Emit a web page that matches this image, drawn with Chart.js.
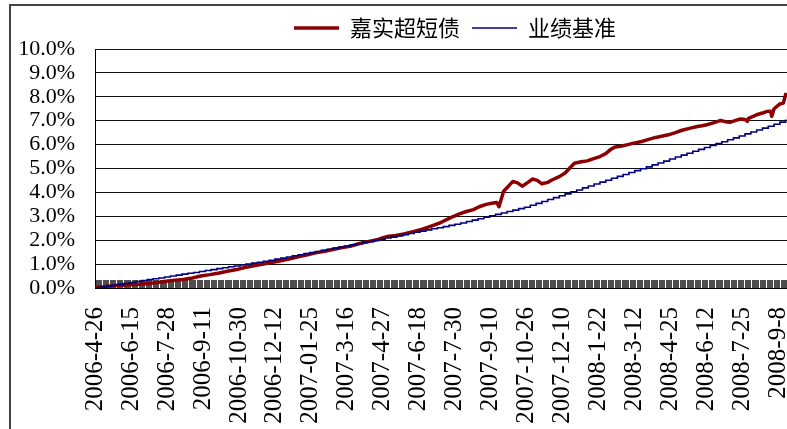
<!DOCTYPE html>
<html>
<head>
<meta charset="utf-8">
<script src="https://cdn.jsdelivr.net/npm/chart.js@4.4.0/dist/chart.umd.min.js"></script>
<style>
  html, body { margin: 0; padding: 0; background: #fff; overflow: hidden; }
  #wrap { position: relative; width: 787px; height: 429px; overflow: hidden; }
  #frame { position: absolute; left: 9px; top: 4px; width: 900px; height: 500px;
           border-left: 2px solid #444; border-top: 2px solid #444; pointer-events: none; }
  canvas { position: absolute; left: 0; top: 0; }
</style>
</head>
<body>
<div id="wrap">
  <canvas id="chart" width="910" height="440"></canvas>
  <div id="frame"></div>
</div>
<script>
// tick labels, one every 31 trading days
const dateLabels = [
  "2006-4-26", "2006-6-15", "2006-7-28", "2006-9-11", "2006-10-30", "2006-12-12",
  "2007-01-25", "2007-3-16", "2007-4-27", "2007-6-18", "2007-7-30", "2007-9-10",
  "2007-10-26", "2007-12-10", "2008-1-22", "2008-3-12", "2008-4-25", "2008-6-12",
  "2008-7-25", "2008-9-8"
];
const labelStep = 31;
const lastDay = 597;

// 嘉实超短债 cumulative return (%), by trading day index
const fundIdx = [0, 8, 15, 23, 30, 38, 46, 53, 61, 69, 76, 84, 91, 99, 107, 114, 122, 129, 137, 145,
  152, 160, 168, 175, 183, 190, 198, 206, 213, 221, 228, 236, 244, 249, 253, 259, 266, 274, 282, 289,
  297, 303, 308, 314, 320, 326, 331, 337, 343, 346, 348, 350, 352, 356, 360, 364, 368, 373, 377, 381,
  385, 390, 394, 400, 405, 409, 413, 419, 424, 429, 435, 440, 444, 448, 453, 459, 464, 471, 477, 483,
  488, 494, 500, 505, 512, 519, 523, 527, 532, 536, 539, 543, 547, 552, 556, 560, 562, 563, 567, 570,
  575, 579, 582, 583, 585, 588, 590, 593, 595];
const fundPct = [0.02, 0.05, 0.09, 0.12, 0.14, 0.16, 0.19, 0.22, 0.28, 0.32, 0.36, 0.42, 0.50, 0.56, 0.63, 0.70, 0.77, 0.86, 0.93, 1.00,
  1.07, 1.14, 1.22, 1.31, 1.39, 1.47, 1.54, 1.62, 1.69, 1.76, 1.86, 1.95, 2.03, 2.12, 2.17, 2.20, 2.26, 2.36, 2.46, 2.58,
  2.72, 2.86, 2.98, 3.10, 3.20, 3.28, 3.40, 3.50, 3.56, 3.58, 3.40, 3.72, 4.05, 4.25, 4.46, 4.40, 4.26, 4.42, 4.56, 4.50,
  4.36, 4.42, 4.53, 4.66, 4.81, 5.02, 5.22, 5.28, 5.32, 5.40, 5.50, 5.62, 5.79, 5.90, 5.93, 6.00, 6.06, 6.13, 6.22, 6.30,
  6.35, 6.41, 6.50, 6.59, 6.68, 6.76, 6.79, 6.83, 6.90, 6.96, 7.01, 6.96, 6.93, 7.01, 7.07, 7.05, 6.97, 7.10, 7.18, 7.25,
  7.32, 7.39, 7.40, 7.18, 7.50, 7.62, 7.70, 7.74, 8.10];

// 业绩基准 cumulative return (%), one value every 5 trading days
const benchStep = 5;
const benchPct = [0.00, 0.04, 0.08, 0.12, 0.15, 0.19, 0.23, 0.27, 0.31, 0.35, 0.39, 0.42, 0.46, 0.50, 0.54, 0.58, 0.62, 0.65, 0.69, 0.73,
  0.77, 0.81, 0.85, 0.89, 0.92, 0.96, 1.00, 1.04, 1.08, 1.12, 1.16, 1.21, 1.25, 1.30, 1.35, 1.39, 1.44, 1.48, 1.53, 1.58,
  1.62, 1.67, 1.71, 1.76, 1.81, 1.85, 1.90, 1.94, 1.99, 2.04, 2.09, 2.13, 2.18, 2.23, 2.28, 2.33, 2.38, 2.43, 2.48, 2.52,
  2.57, 2.62, 2.67, 2.72, 2.78, 2.84, 2.90, 2.96, 3.02, 3.08, 3.14, 3.20, 3.26, 3.32, 3.38, 3.46, 3.54, 3.62, 3.70, 3.78,
  3.86, 3.94, 4.02, 4.10, 4.19, 4.27, 4.35, 4.43, 4.51, 4.59, 4.67, 4.75, 4.83, 4.91, 4.99, 5.07, 5.15, 5.23, 5.31, 5.40,
  5.48, 5.56, 5.64, 5.72, 5.80, 5.88, 5.96, 6.04, 6.12, 6.20, 6.28, 6.36, 6.45, 6.53, 6.61, 6.69, 6.77, 6.85, 6.94, 7.05];

const fundData = fundIdx.map((d, i) => ({ x: d, y: fundPct[i] }));
const benchData = benchPct.map((v, i) => ({ x: i * benchStep, y: v }));

const serif = "'Liberation Serif', 'DejaVu Serif', serif";

new Chart(document.getElementById("chart"), {
  type: "line",
  data: {
    datasets: [
      {
        label: "嘉实超短债",
        data: fundData,
        borderColor: "#8B0000",
        backgroundColor: "#8B0000",
        borderWidth: 3.5,
        pointRadius: 0,
        pointStyle: "line",
        borderJoinStyle: "round",
        borderCapStyle: "round",
        tension: 0,
        order: 2
      },
      {
        label: "业绩基准",
        data: benchData,
        borderColor: "#000080",
        backgroundColor: "#000080",
        borderWidth: 1.6,
        pointRadius: 0,
        pointStyle: "line",
        stepped: true,
        order: 1
      }
    ]
  },
  options: {
    responsive: false,
    animation: false,
    devicePixelRatio: 1,
    layout: { padding: { left: 0, right: 0, top: 5, bottom: 2 } },
    plugins: {
      tooltip: { enabled: false },
      legend: {
        position: "top",
        labels: {
          usePointStyle: true,
          pointStyleWidth: 45,
          padding: 12,
          color: "#000",
          font: { family: "'Noto Sans CJK SC', sans-serif", size: 22 },
          sort: (a, b) => a.datasetIndex - b.datasetIndex
        }
      }
    },
    scales: {
      x: {
        type: "linear",
        min: 0,
        max: lastDay,
        ticks: {
          stepSize: 1,
          autoSkip: false,
          minRotation: 90,
          maxRotation: 90,
          padding: 27,
          color: "#000",
          font: { family: serif, size: 25 },
          callback: (v) => (v % labelStep === 0 && dateLabels[v / labelStep]) ? dateLabels[v / labelStep] : ""
        },
        grid: { drawOnChartArea: false, drawTicks: true, tickLength: -8, tickColor: "#000", tickWidth: 0.7 },
        border: { color: "#000", width: 1 },
        afterFit: (s) => { s.height = 150; }
      },
      y: {
        min: 0,
        max: 10,
        ticks: {
          stepSize: 1,
          autoSkip: false,
          padding: 20,
          color: "#000",
          font: { family: serif, size: 22 },
          callback: (v) => v.toFixed(1) + "%"
        },
        grid: { color: "#111", lineWidth: 1, drawTicks: false },
        border: { color: "#000", width: 1 },
        afterFit: (s) => { s.width = 95; }
      },
      y2: {
        position: "right",
        display: true,
        grid: { display: false },
        ticks: { display: false },
        border: { display: false },
        afterFit: (s) => { s.width = 122; }
      }
    }
  }
});
</script>
</body>
</html>
